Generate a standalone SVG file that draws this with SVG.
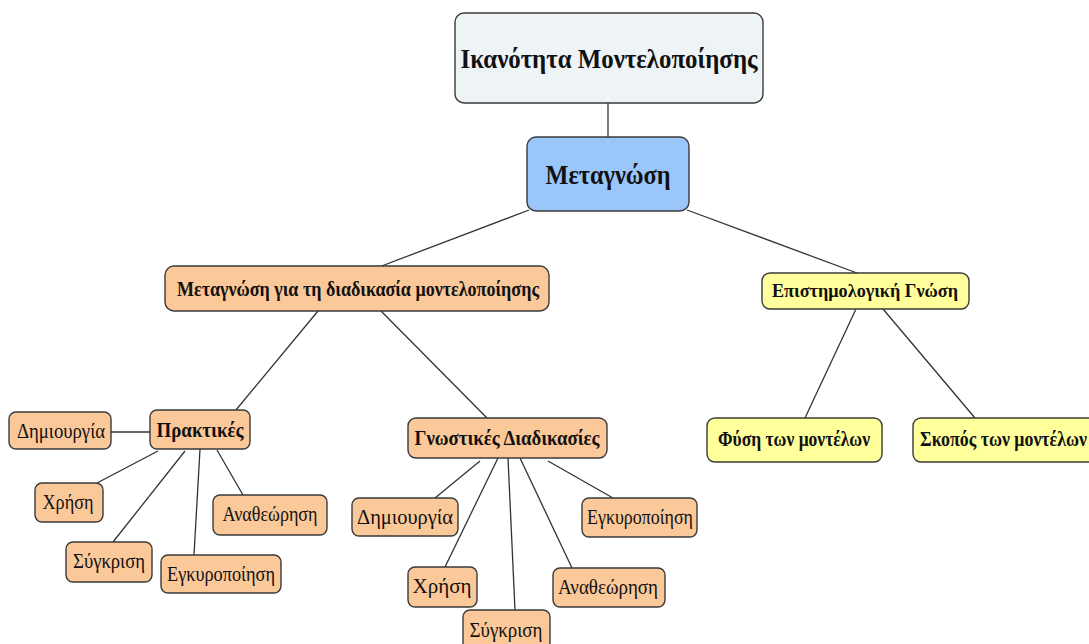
<svg xmlns="http://www.w3.org/2000/svg" width="1089" height="644" viewBox="0 0 1089 644">
<style>
.n rect{stroke:#3a3a3a;stroke-width:1.4}
.grey{fill:#eef3f5}
.blue{fill:#9ac6fa}
.peach{fill:#fbc899}
.yel{fill:#ffff9c}
text{font-family:"Liberation Serif","DejaVu Serif",serif;fill:#111;text-anchor:middle}
.b{font-weight:bold}
.s{font-size:21px}
.lines line{stroke:#333;stroke-width:1.3}
</style>
<rect width="1089" height="644" fill="#ffffff"/>
<g class="lines" id="connectors">
<line x1="608" y1="103" x2="608" y2="137"/>
<line x1="529" y1="210" x2="379" y2="267"/>
<line x1="687" y1="210" x2="857" y2="273"/>
<line x1="318" y1="311" x2="236" y2="410"/>
<line x1="381" y1="311" x2="487" y2="418"/>
<line x1="856" y1="309" x2="805" y2="418"/>
<line x1="883" y1="309" x2="975" y2="418"/>
<line x1="111" y1="432" x2="150" y2="432"/>
<line x1="158" y1="451" x2="97" y2="483"/>
<line x1="185" y1="451" x2="113" y2="542"/>
<line x1="200" y1="449" x2="194" y2="555"/>
<line x1="217" y1="450" x2="243" y2="495"/>
<line x1="480" y1="461" x2="435" y2="498"/>
<line x1="498" y1="458" x2="445" y2="567"/>
<line x1="508" y1="458" x2="515" y2="610"/>
<line x1="520" y1="458" x2="572" y2="568"/>
<line x1="548" y1="461" x2="613" y2="498"/>
</g>
<g class="n" id="n-title"><rect class="grey" x="455" y="13" width="308" height="90" rx="9"/><text class="b" x="609" y="68" font-size="27" textLength="297" lengthAdjust="spacingAndGlyphs">Ικανότητα Μοντελοποίησης</text></g>
<g class="n" id="n-meta"><rect class="blue" x="527" y="137" width="162" height="74" rx="9"/><text class="b" x="608" y="184" font-size="27" textLength="125" lengthAdjust="spacingAndGlyphs">Μεταγνώση</text></g>
<g class="n" id="n-process"><rect class="peach" x="165" y="266" width="384" height="45" rx="9"/><text class="b" x="358" y="296" font-size="20" textLength="362" lengthAdjust="spacingAndGlyphs">Μεταγνώση για τη διαδικασία μοντελοποίησης</text></g>
<g class="n" id="n-episteme"><rect class="yel" x="762" y="273" width="207" height="36" rx="8"/><text class="b" x="865" y="297" font-size="18" textLength="186" lengthAdjust="spacingAndGlyphs">Επιστημολογική Γνώση</text></g>
<g class="n" id="n-fysi"><rect class="yel" x="707" y="418" width="175" height="44" rx="8"/><text class="b" x="794" y="446" font-size="20" textLength="152" lengthAdjust="spacingAndGlyphs">Φύση των μοντέλων</text></g>
<g class="n" id="n-skopos"><rect class="yel" x="913" y="418" width="190" height="44" rx="8"/><text class="b" x="920" y="446" font-size="20" style="text-anchor:start" textLength="167" lengthAdjust="spacingAndGlyphs">Σκοπός των μοντέλων</text></g>
<g class="n" id="n-praktikes"><rect class="peach" x="150" y="410" width="100" height="39" rx="7"/><text class="b" x="200" y="437" font-size="20" textLength="87" lengthAdjust="spacingAndGlyphs">Πρακτικές</text></g>
<g class="n" id="n-p-dimiourgia"><rect class="peach" x="9" y="412" width="102" height="37" rx="7"/><text class="s" x="61" y="438" textLength="88" lengthAdjust="spacingAndGlyphs">Δημιουργία</text></g>
<g class="n" id="n-p-xrisi"><rect class="peach" x="35" y="483" width="68" height="39" rx="7"/><text class="s" x="68" y="509" textLength="51" lengthAdjust="spacingAndGlyphs">Χρήση</text></g>
<g class="n" id="n-p-sygkrisi"><rect class="peach" x="66" y="542" width="86" height="40" rx="7"/><text class="s" x="109" y="568" textLength="72" lengthAdjust="spacingAndGlyphs">Σύγκριση</text></g>
<g class="n" id="n-p-egkyr"><rect class="peach" x="161" y="555" width="120" height="38" rx="7"/><text class="s" x="221" y="581" textLength="108" lengthAdjust="spacingAndGlyphs">Εγκυροποίηση</text></g>
<g class="n" id="n-p-anath"><rect class="peach" x="213" y="495" width="114" height="40" rx="7"/><text class="s" x="270" y="521" textLength="95" lengthAdjust="spacingAndGlyphs">Αναθεώρηση</text></g>
<g class="n" id="n-gnostikes"><rect class="peach" x="408" y="418" width="199" height="40" rx="8"/><text class="b" x="507" y="445" font-size="20" textLength="185" lengthAdjust="spacingAndGlyphs">Γνωστικές Διαδικασίες</text></g>
<g class="n" id="n-g-dimiourgia"><rect class="peach" x="352" y="498" width="106" height="38" rx="7"/><text class="s" x="405" y="524" textLength="96" lengthAdjust="spacingAndGlyphs">Δημιουργία</text></g>
<g class="n" id="n-g-egkyr"><rect class="peach" x="582" y="498" width="115" height="39" rx="7"/><text class="s" x="640" y="524" textLength="106" lengthAdjust="spacingAndGlyphs">Εγκυροποίηση</text></g>
<g class="n" id="n-g-xrisi"><rect class="peach" x="408" y="567" width="69" height="40" rx="7"/><text class="s" x="442" y="593" textLength="59" lengthAdjust="spacingAndGlyphs">Χρήση</text></g>
<g class="n" id="n-g-anath"><rect class="peach" x="553" y="568" width="112" height="39" rx="7"/><text class="s" x="608" y="594" textLength="100" lengthAdjust="spacingAndGlyphs">Αναθεώρηση</text></g>
<g class="n" id="n-g-sygkrisi"><rect class="peach" x="463" y="610" width="87" height="40" rx="7"/><text class="s" x="506" y="637" textLength="73" lengthAdjust="spacingAndGlyphs">Σύγκριση</text></g>
</svg>
